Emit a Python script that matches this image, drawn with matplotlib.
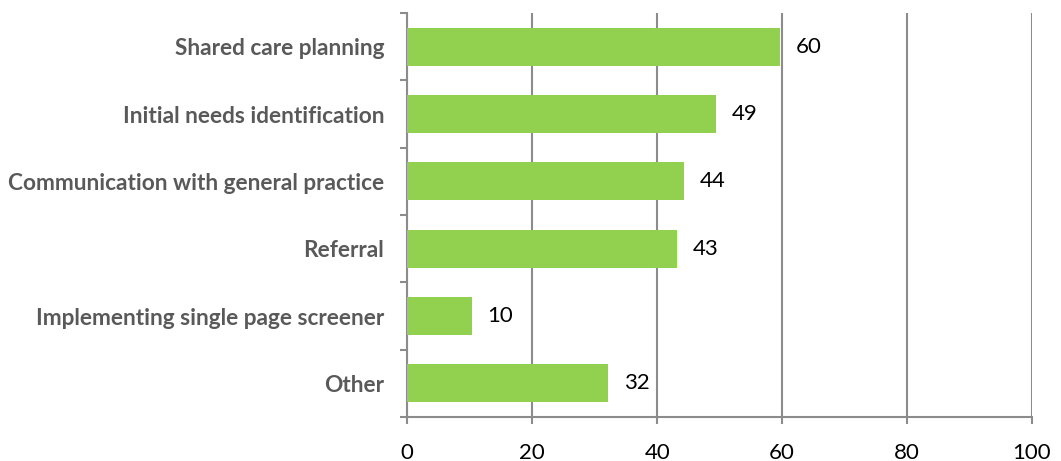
import matplotlib
matplotlib.use("Agg")
import matplotlib.pyplot as plt
import numpy as np

categories = ["Shared care planning", "Initial needs identification",
              "Communication with general practice", "Referral",
              "Implementing single page screener", "Other"]
values = [59.7, 49.4, 44.3, 43.1, 10.3, 32.1]
labels = ["60", "49", "44", "43", "10", "32"]
xticks = [0, 20, 40, 60, 80, 100]

DPI = 100
PX = 72 / DPI  # points per pixel
fig = plt.figure(figsize=(10.61, 4.61), dpi=DPI)
ax = fig.add_axes([407.3 / 1061, 1 - 417 / 461, (1032 - 407.3) / 1061, (417 - 13) / 461])

y = np.arange(len(categories))
ax.barh(y, values, height=0.565, color="#92D050", zorder=3)
ax.set_ylim(len(categories) - 0.5, -0.5)
ax.set_xlim(0, 100)

for yi, v, lab in zip(y, values, labels):
    ax.annotate(lab, (v, yi), xytext=(16 * PX, 0), textcoords="offset points",
                ha="left", va="center", fontsize=16, family="Lato", color="#000000", zorder=4)

gridc = "#8c8c8c"
ax.set_xticks(xticks)
ax.set_xticklabels([str(t) for t in xticks], family="Lato", fontsize=16, color="#000000")
ax.xaxis.grid(True, color=gridc, linewidth=1.5, zorder=0)
ax.tick_params(axis="x", length=7 * PX, width=1.5, color=gridc, pad=19 * PX)

ax.set_yticks(y)
ax.set_yticklabels(categories, family="Lato", fontweight="bold", fontsize=16.3, color="#595959")
ax.set_yticks(np.arange(-0.5, len(categories)), minor=True)
ax.tick_params(axis="y", which="major", length=0, pad=23 * PX)
ax.tick_params(axis="y", which="minor", length=7 * PX, width=1.5, color=gridc)

for s in ["top", "right"]:
    ax.spines[s].set_visible(False)
for s in ["left", "bottom"]:
    ax.spines[s].set_color(gridc)
    ax.spines[s].set_linewidth(1.5)

fig.savefig("out.png", dpi=DPI)
